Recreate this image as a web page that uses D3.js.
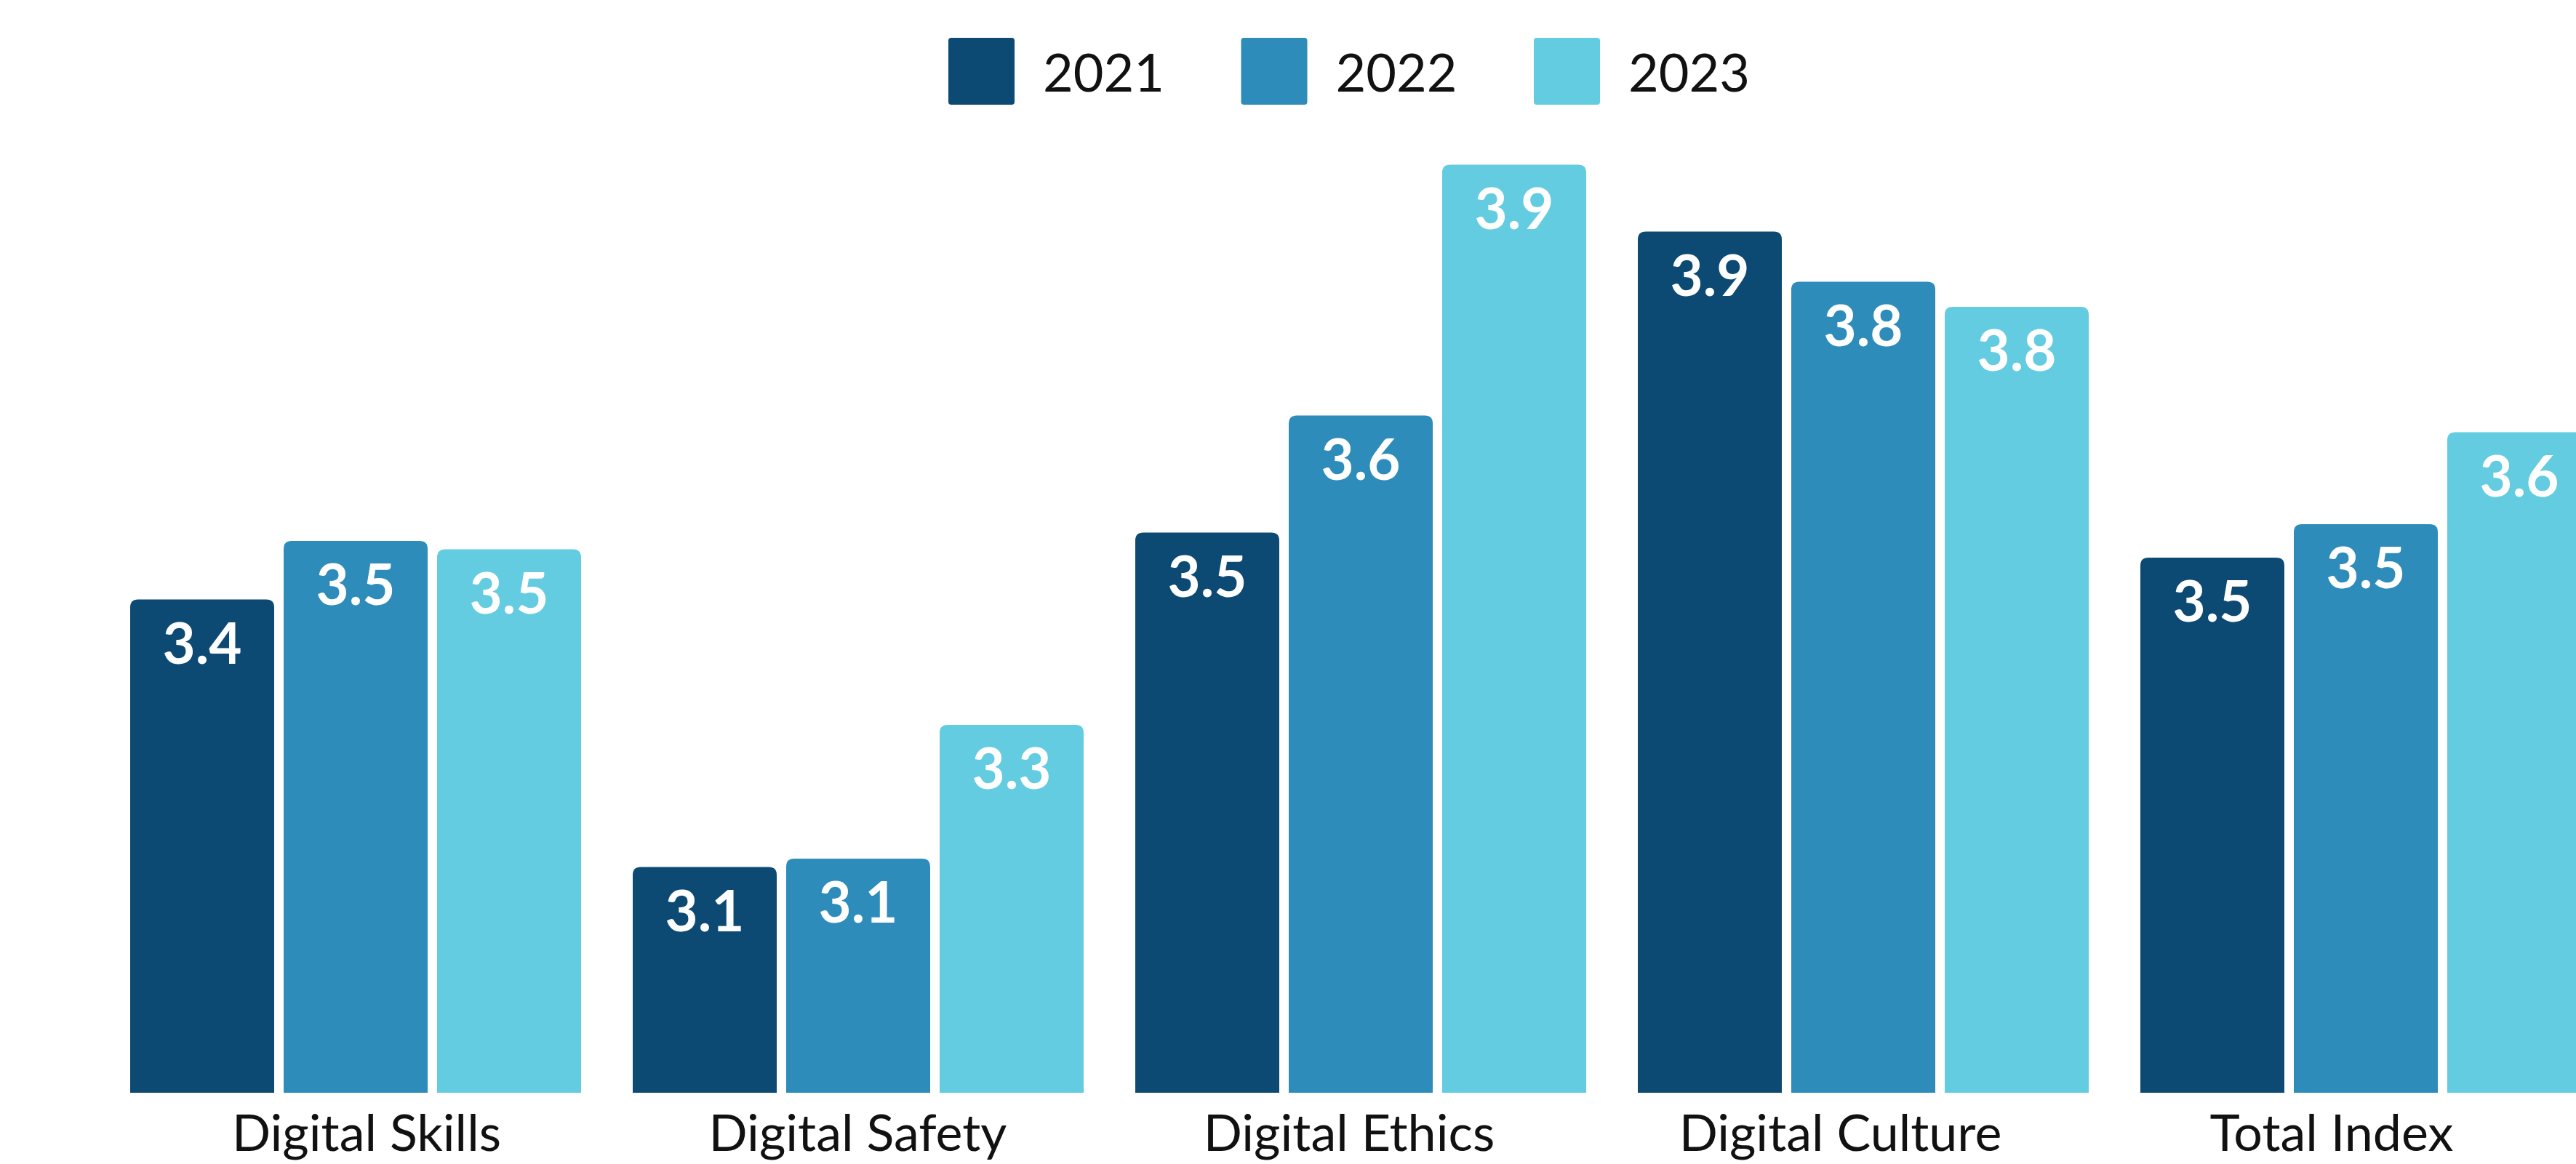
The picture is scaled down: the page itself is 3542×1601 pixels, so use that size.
<!DOCTYPE html>
<html>
<head>
<meta charset="utf-8">
<script src="https://cdn.jsdelivr.net/npm/d3@7"></script>
<style>
  html, body { margin: 0; padding: 0; background: #ffffff; }
  svg { display: block; }
</style>
</head>
<body>
<script>
// Digital literacy index by dimension, 2021–2023
const categories = ["Digital Skills", "Digital Safety", "Digital Ethics", "Digital Culture", "Total Index"];
const years = ["2021", "2022", "2023"];
const values2021 = [3.42, 3.10, 3.50, 3.86, 3.47];
const values2022 = [3.49, 3.11, 3.64, 3.80, 3.51];
const values2023 = [3.48, 3.27, 3.94, 3.77, 3.62];
const yearColors = ["#0c4a74", "#2e8cba", "#63cce0"];

const W = 3542, H = 1601;
const seriesValues = [values2021, values2022, values2023];

const svg = d3.select("body").append("svg")
  .attr("width", W).attr("height", H)
  .attr("viewBox", `0 0 ${W} ${H}`);

// Scales
const baseline = 1503;
const y = d3.scaleLinear().domain([2.83, 4.0]).range([baseline, baseline - 1.17 * 1150]);

const x0 = d3.scaleBand().domain(categories)
  .range([179, 179 + 5 * 691 - 71])
  .paddingInner(71 / 691).paddingOuter(0);

const x1 = d3.scaleBand().domain(years)
  .range([0, x0.bandwidth()])
  .paddingInner(13 / 211).paddingOuter(0);

const color = d3.scaleOrdinal().domain(years).range(yearColors);

// category labels sit on their own evenly spaced axis
const xLabel = d3.scalePoint().domain(categories).range([504, 3206]);

const rows = categories.map((c, i) => ({
  category: c,
  bars: years.map((yr, j) => ({ year: yr, value: seriesValues[j][i] }))
}));

// bar with rounded top corners
function topRoundedBar(x, yTop, w, yBottom, r) {
  const rr = Math.min(r, w / 2, yBottom - yTop);
  return `M${x},${yBottom}` +
    `V${yTop + rr}` +
    `Q${x},${yTop} ${x + rr},${yTop}` +
    `H${x + w - rr}` +
    `Q${x + w},${yTop} ${x + w},${yTop + rr}` +
    `V${yBottom}Z`;
}

const groups = svg.append("g").attr("class", "bars")
  .selectAll("g").data(rows).join("g")
  .attr("transform", d => `translate(${x0(d.category)},0)`);

groups.selectAll("path").data(d => d.bars).join("path")
  .attr("d", d => topRoundedBar(x1(d.year), y(d.value), x1.bandwidth(), y.range()[0], 11))
  .attr("fill", d => color(d.year));

const fmt = d3.format(".1f");
groups.selectAll("text").data(d => d.bars).join("text")
  .attr("x", d => x1(d.year) + x1.bandwidth() / 2)
  .attr("y", d => y(d.value) + 88)
  .attr("text-anchor", "middle")
  .attr("font-family", "Lato, 'Open Sans', sans-serif")
  .attr("font-weight", 700)
  .attr("font-size", 78)
  .attr("fill", "#ffffff")
  .text(d => fmt(d.value));

// category axis labels
svg.append("g").attr("class", "x-labels")
  .selectAll("text").data(categories).join("text")
  .attr("x", d => xLabel(d))
  .attr("y", 1583)
  .attr("text-anchor", "middle")
  .attr("font-family", "Lato, 'Open Sans', sans-serif")
  .attr("font-size", 70)
  .attr("fill", "#111111")
  .text(d => d);

// legend
const legendX = d3.scalePoint().domain(years).range([1304, 2109]);
const legend = svg.append("g").attr("class", "legend")
  .selectAll("g").data(years).join("g")
  .attr("transform", d => `translate(${legendX(d)},52)`);

legend.append("rect")
  .attr("width", 91).attr("height", 92)
  .attr("rx", 4).attr("ry", 4)
  .attr("fill", d => color(d));

legend.append("text")
  .attr("x", 130)
  .attr("y", 74)
  .attr("font-family", "Lato, 'Open Sans', sans-serif")
  .attr("font-size", 72)
  .attr("fill", "#111111")
  .text(d => d);
</script>
</body>
</html>
